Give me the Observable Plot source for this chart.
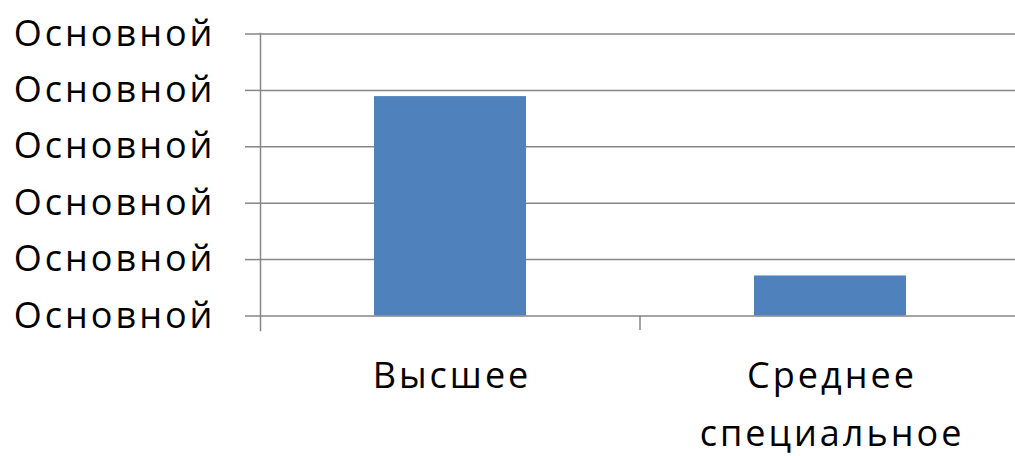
<!DOCTYPE html>
<html>
<head>
<meta charset="utf-8">
<script src="https://cdn.jsdelivr.net/npm/d3@7"></script>
<script src="https://cdn.jsdelivr.net/npm/@observablehq/plot@0.6"></script>
<style>
  html, body { margin: 0; padding: 0; background: #fff; }
  #chart svg { display: block; }
</style>
</head>
<body>
<div id="chart"></div>
<script>
const categories = ["Высшее", "Среднее специальное"];
const categoryLabels = ["Высшее", "Среднее\nспециальное"];
const values = [3.89, 0.71];
const yTicks = [0, 1, 2, 3, 4, 5];
const yTickLabel = "Основной";

const data = categories.map((c, i) => ({category: c, label: categoryLabels[i], value: values[i]}));

const gridColor = "#868686";
const font = "'Open Sans', sans-serif";

const chart = Plot.plot({
  width: 1015,
  height: 456,
  marginTop: 33,
  marginLeft: 260,
  marginRight: 0,
  marginBottom: 126,
  style: {fontFamily: font, fontSize: "36px", letterSpacing: "3px", color: "#000", background: "#fff"},
  x: {domain: categories, range: [260, 1020], paddingInner: 0.6, paddingOuter: 0.3, axis: null},
  y: {domain: [0, 5], range: [315.5, 33.5], axis: null},
  marks: [
    Plot.ruleY(yTicks, {y: d => d, stroke: gridColor, strokeWidth: 1.5, strokeOpacity: 1}),
    Plot.barY(data, {x: "category", y: "value", fill: "#4F81BD"}),
    Plot.axisY(yTicks, {
      anchor: "left",
      label: null,
      tickSize: 15,
      tickPadding: 30,
      stroke: gridColor,
      strokeWidth: 1.5,
      strokeOpacity: 1,
      tickFormat: () => yTickLabel,
      fill: "#000",
      fontSize: 36
    }),
    Plot.frame({anchor: "left", stroke: gridColor, strokeWidth: 1.5, strokeOpacity: 1}),
    Plot.text(data, {
      x: "category",
      text: "label",
      frameAnchor: "bottom",
      lineAnchor: "top",
      lineHeight: 1.6,
      dy: 17,
      dx: 1.5,
      fontSize: 36,
      fill: "#000"
    })
  ]
});

// category boundary tick marks below the baseline, from the band scale
const xs = chart.scale("x");
const ys = chart.scale("y");
const svg = d3.select(chart);
const y0 = ys.apply(0);
svg.append("g")
  .selectAll("line")
  .data(categories.slice(1))
  .join("line")
  .attr("x1", c => xs.apply(c) - (xs.step - xs.bandwidth) / 2)
  .attr("x2", c => xs.apply(c) - (xs.step - xs.bandwidth) / 2)
  .attr("y1", y0)
  .attr("y2", y0 + 14.5)
  .attr("stroke", gridColor)
  .attr("stroke-width", 1.5);

document.getElementById("chart").append(chart);
</script>
</body>
</html>
